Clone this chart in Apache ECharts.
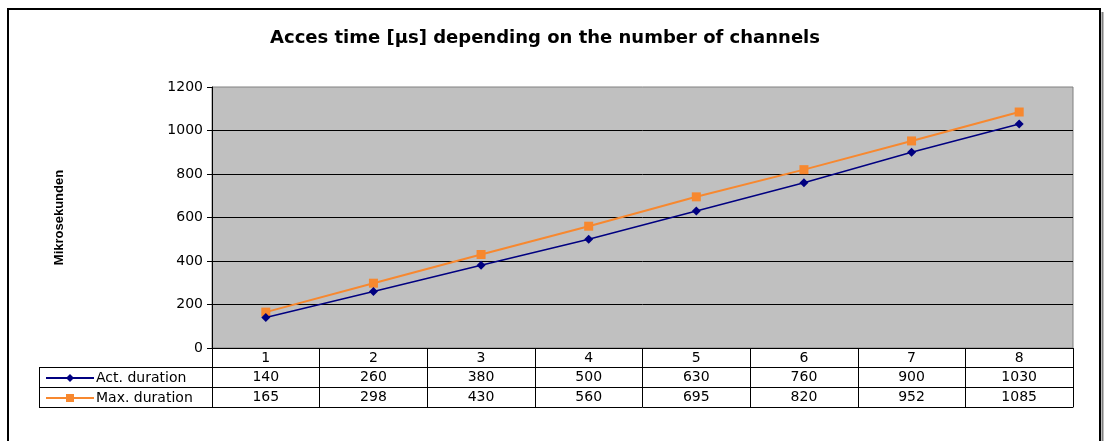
<!DOCTYPE html>
<html>
<head>
<meta charset="utf-8">
<script src="https://cdn.jsdelivr.net/npm/echarts@6/dist/echarts.min.js"></script>
<style>
html,body{margin:0;padding:0;background:#fff;}
#chart{width:1104px;height:441px;}
</style>
</head>
<body>
<div id="chart"></div>
<script>
const titleText = 'Acces time [µs] depending on the number of channels';
const yAxisName = 'Mikrosekunden';
const categories = ['1', '2', '3', '4', '5', '6', '7', '8'];
const actName = 'Act. duration';
const maxName = 'Max. duration';
const actDuration = [140, 260, 380, 500, 630, 760, 900, 1030];
const maxDuration = [165, 298, 430, 560, 695, 820, 952, 1085];
const yTicks = [0, 200, 400, 600, 800, 1000, 1200];

const FONT = 'DejaVu Sans';
const chart = echarts.init(document.getElementById('chart'), null, {renderer: 'canvas'});

function tableAxis(offset, values, showLabel) {
  return {
    type: 'category',
    data: categories,
    position: 'bottom',
    offset: offset,
    boundaryGap: true,
    axisLine: {show: true, onZero: false, lineStyle: {color: '#000', width: 1}},
    axisTick: {show: false},
    axisLabel: {
      show: showLabel,
      interval: 0,
      margin: 3,
      color: '#000',
      fontFamily: FONT,
      fontSize: 14,
      formatter: (v, i) => values ? String(values[i]) : v
    },
    splitLine: {show: false}
  };
}

const xMain = tableAxis(0, null, true);
xMain.axisTick = {show: true, interval: 0, length: 59, inside: false, lineStyle: {color: '#000', width: 1}};

const option = {
  animation: false,
  backgroundColor: '#fff',
  title: {
    text: titleText,
    left: 540,
    textAlign: 'center',
    top: 24,
    textStyle: {fontFamily: FONT, fontWeight: 'bold', fontSize: 18, color: '#000'}
  },
  grid: {
    left: 212, top: 87, right: 31, bottom: 93,
    show: true,
    backgroundColor: '#C0C0C0',
    borderColor: '#808080',
    borderWidth: 1
  },
  legend: {
    orient: 'vertical',
    left: 40,
    top: 366,
    itemGap: 6,
    itemWidth: 48,
    itemHeight: 10,
    textStyle: {fontFamily: FONT, fontSize: 14, color: '#000', padding: [0, 0, 0, -3]},
    data: [actName, maxName]
  },
  xAxis: [
    xMain,
    tableAxis(19, actDuration, true),
    tableAxis(39, maxDuration, true),
    tableAxis(59, null, false)
  ],
  yAxis: {
    type: 'value',
    min: yTicks[0],
    max: yTicks[yTicks.length - 1],
    interval: 200,
    name: yAxisName,
    nameLocation: 'middle',
    nameRotate: 90,
    nameGap: 146,
    nameTextStyle: {fontFamily: 'Liberation Sans', fontWeight: 'bold', fontSize: 13, color: '#000'},
    axisLine: {show: true, lineStyle: {color: '#000', width: 1}},
    axisTick: {show: true, length: 5, lineStyle: {color: '#000'}},
    axisLabel: {color: '#000', fontFamily: FONT, fontSize: 14, margin: 9, formatter: (v) => String(v)},
    splitLine: {show: true, showMaxLine: false, showMinLine: false, lineStyle: {color: '#000', width: 1}}
  },
  series: [
    {
      name: actName,
      type: 'line',
      data: actDuration,
      symbol: 'diamond',
      symbolSize: 9,
      showAllSymbol: true,
      itemStyle: {color: '#000080'},
      lineStyle: {color: '#000080', width: 1.5},
      z: 3
    },
    {
      name: maxName,
      type: 'line',
      data: maxDuration,
      symbol: 'rect',
      symbolSize: 9,
      showAllSymbol: true,
      itemStyle: {color: '#F7882F'},
      lineStyle: {color: '#F7882F', width: 2},
      z: 2
    }
  ],
  graphic: [
    {type: 'rect', shape: {x: 8, y: 9, width: 1092, height: 480}, style: {fill: 'none', stroke: '#000', lineWidth: 2}, silent: true},
    {type: 'line', shape: {x1: 1102.5, y1: 12, x2: 1102.5, y2: 441}, style: {stroke: '#808080', lineWidth: 2}, silent: true},
    {type: 'line', shape: {x1: 39, y1: 367.5, x2: 212, y2: 367.5}, style: {stroke: '#000', lineWidth: 1}, silent: true},
    {type: 'line', shape: {x1: 39, y1: 387.5, x2: 212, y2: 387.5}, style: {stroke: '#000', lineWidth: 1}, silent: true},
    {type: 'line', shape: {x1: 39, y1: 407.5, x2: 212, y2: 407.5}, style: {stroke: '#000', lineWidth: 1}, silent: true},
    {type: 'line', shape: {x1: 39.5, y1: 367, x2: 39.5, y2: 408}, style: {stroke: '#000', lineWidth: 1}, silent: true}
  ]
};
chart.setOption(option);
</script>
</body>
</html>
